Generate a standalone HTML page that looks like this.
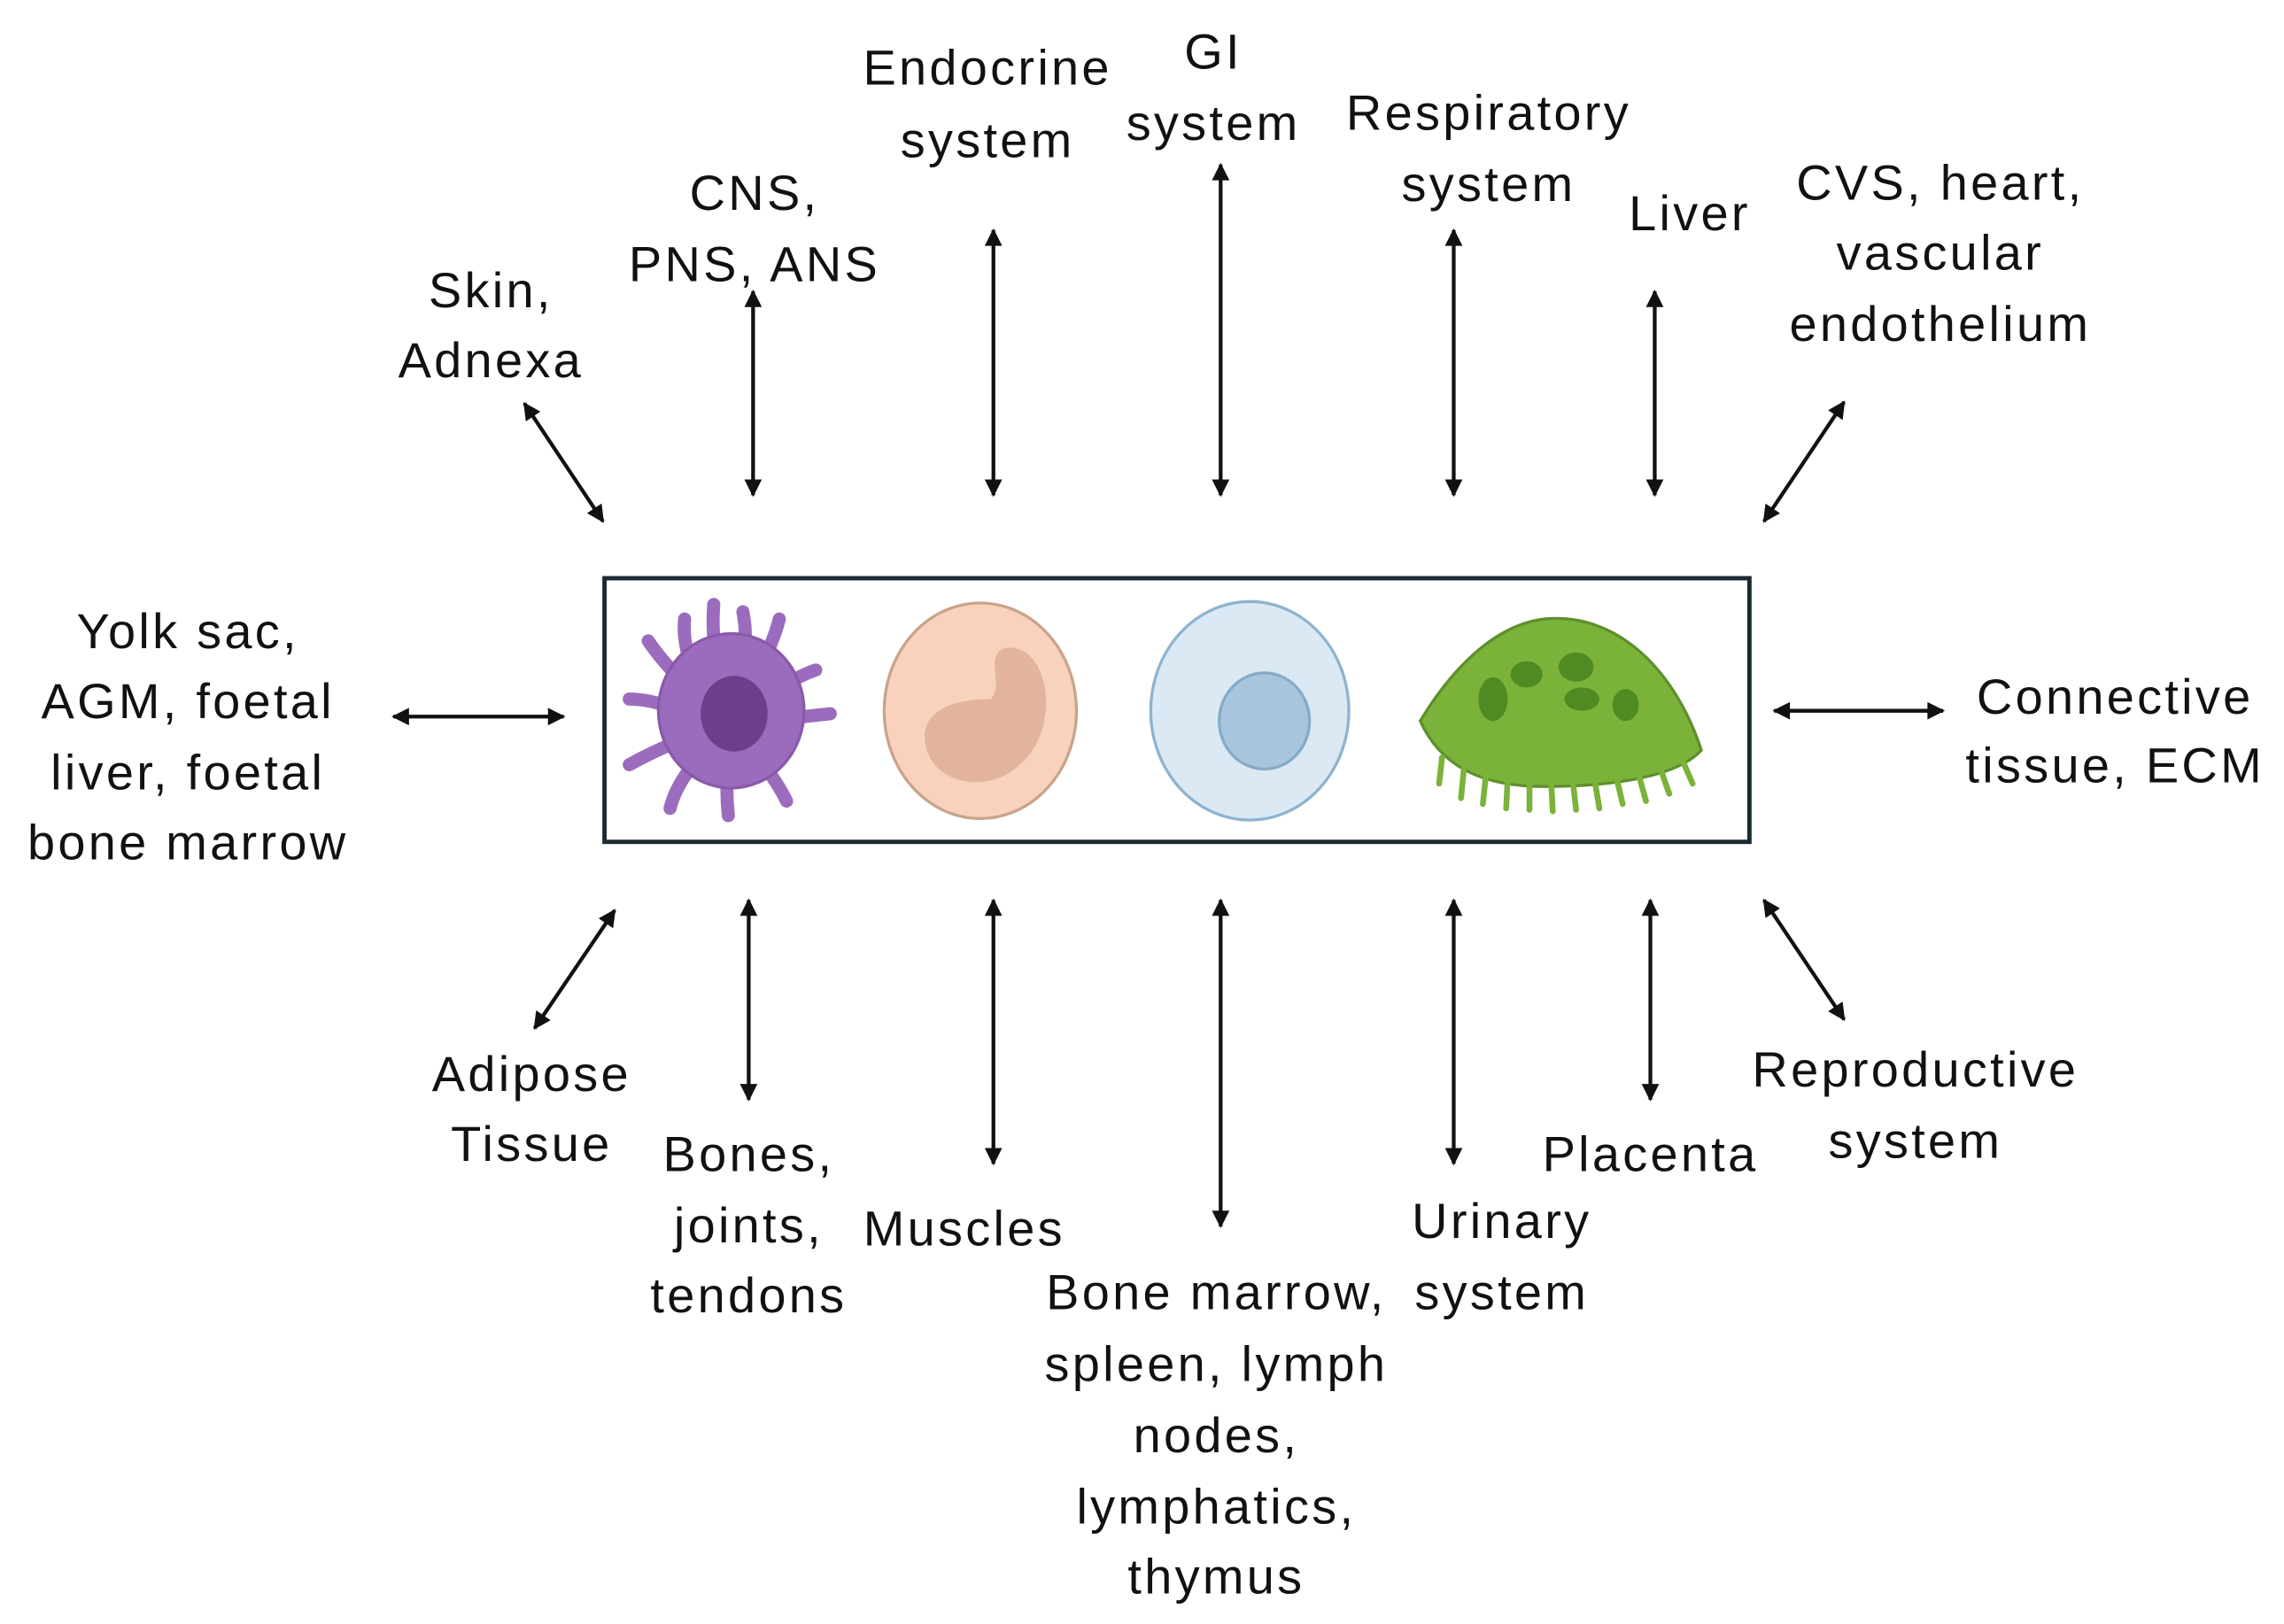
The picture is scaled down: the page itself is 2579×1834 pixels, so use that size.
<!DOCTYPE html>
<html><head><meta charset="utf-8"><style>
html,body{margin:0;padding:0;background:#fff;}
svg{display:block;}
text{font-family:"Liberation Sans","DejaVu Sans",sans-serif;font-size:34px;letter-spacing:2px;fill:#111;text-anchor:middle;}
</style></head><body>
<svg width="2579" height="1834" viewBox="0 0 1568 1115" preserveAspectRatio="none" xmlns="http://www.w3.org/2000/svg">
<defs>
<marker id="a" viewBox="0 0 10 10" refX="9" refY="5" markerWidth="14" markerHeight="12" orient="auto-start-reverse" markerUnits="userSpaceOnUse">
<path d="M0,0 L10,5 L0,10 z" fill="#111"/></marker>
</defs>
<rect width="1568" height="1115" fill="#fff"/>
<g stroke="#111" stroke-width="2.6" marker-start="url(#a)" marker-end="url(#a)" fill="none">
<line x1="360" y1="277" x2="414" y2="358"/>
<line x1="517" y1="200" x2="517" y2="340"/>
<line x1="682" y1="158" x2="682" y2="340"/>
<line x1="838" y1="113" x2="838" y2="340"/>
<line x1="998" y1="158" x2="998" y2="340"/>
<line x1="1136" y1="200" x2="1136" y2="340"/>
<line x1="1266" y1="276" x2="1211" y2="358"/>
<line x1="270" y1="492" x2="387" y2="492"/>
<line x1="1218" y1="488" x2="1334" y2="488"/>
<line x1="422" y1="625" x2="367" y2="706"/>
<line x1="514" y1="618" x2="514" y2="755"/>
<line x1="682" y1="618" x2="682" y2="799"/>
<line x1="838" y1="618" x2="838" y2="842"/>
<line x1="998" y1="618" x2="998" y2="799"/>
<line x1="1133" y1="618" x2="1133" y2="755"/>
<line x1="1211" y1="618" x2="1266" y2="700"/>
</g>
<rect x="415" y="397" width="786" height="181" fill="#fff" stroke="#1c2b33" stroke-width="3"/>
<!-- purple cell -->
<g stroke="#9b6cbd" stroke-width="9" stroke-linecap="round" fill="none">
<path d="M495,470 Q488,440 490,415"/><path d="M480,470 Q468,445 470,425"/><path d="M505,470 Q515,445 510,420"/>
<path d="M515,470 Q530,445 535,425"/><path d="M480,480 Q455,455 445,440"/><path d="M470,490 Q450,480 432,480"/>
<path d="M525,480 Q545,465 560,460"/><path d="M530,495 Q550,492 570,490"/><path d="M475,505 Q450,515 432,525"/>
<path d="M485,515 Q465,535 460,555"/><path d="M500,520 Q498,540 500,560"/><path d="M515,515 Q530,530 540,550"/>
</g>
<ellipse cx="502" cy="488" rx="50" ry="53" fill="#9b6cbd" stroke="#8a5aa8" stroke-width="2"/>
<ellipse cx="504" cy="490" rx="23" ry="26" fill="#6c3f8a"/>
<!-- peach -->
<ellipse cx="673" cy="488" rx="66" ry="74" fill="#f8d2bd" stroke="#c9a38c" stroke-width="2"/>
<path d="M690,445 C720,440 730,500 700,525 C680,545 640,540 635,510 C632,485 660,480 680,480 C690,470 675,450 690,445Z" fill="#e2b49d"/>
<!-- blue -->
<ellipse cx="858" cy="488" rx="68" ry="75" fill="#dbe9f4" stroke="#8eb3cf" stroke-width="2"/>
<ellipse cx="868" cy="495" rx="31" ry="33" fill="#a7c6de" stroke="#86aac6" stroke-width="2"/>
<!-- green -->
<path d="M975,495 C990,470 1020,430 1060,425 C1110,420 1150,460 1168,515 C1150,535 1100,540 1060,540 C1020,540 990,528 975,495Z" fill="#7bb23a" stroke="#5f8f2a" stroke-width="2"/>
<g stroke="#7bb23a" stroke-width="4" stroke-linecap="round">
<path d="M990,520 L988,538"/><path d="M1005,528 L1003,548"/><path d="M1020,533 L1018,552"/><path d="M1035,535 L1034,555"/><path d="M1050,537 L1050,556"/><path d="M1065,538 L1066,557"/><path d="M1080,538 L1082,556"/><path d="M1095,537 L1098,555"/><path d="M1110,535 L1114,552"/><path d="M1125,532 L1130,550"/><path d="M1140,528 L1146,545"/><path d="M1155,522 L1162,538"/></g>
<g fill="#4f8a22"><ellipse cx="1025" cy="480" rx="10" ry="15"/><ellipse cx="1048" cy="463" rx="11" ry="9"/><ellipse cx="1082" cy="458" rx="12" ry="10"/><ellipse cx="1086" cy="480" rx="12" ry="8"/><ellipse cx="1116" cy="484" rx="9" ry="11"/></g>
<!-- labels -->
<text x="678" y="58">Endocrine</text><text x="678" y="108">system</text>
<text x="833" y="47">GI</text><text x="833" y="96">system</text>
<text x="1022" y="89">Respiratory</text><text x="1022" y="138">system</text>
<text x="1160" y="158">Liver</text>
<text x="1332" y="137">CVS, heart,</text><text x="1332" y="185">vascular</text><text x="1332" y="234">endothelium</text>
<text x="518" y="144">CNS,</text><text x="518" y="193">PNS, ANS</text>
<text x="337" y="211">Skin,</text><text x="337" y="259">Adnexa</text>
<text x="129" y="445">Yolk sac,</text><text x="129" y="493">AGM, foetal</text><text x="129" y="542">liver, foetal</text><text x="129" y="590">bone marrow</text>
<text x="1452" y="490">Connective</text><text x="1452" y="537">tissue, ECM</text>
<text x="365" y="749">Adipose</text><text x="365" y="797">Tissue</text>
<text x="514" y="804">Bones,</text><text x="514" y="853">joints,</text><text x="514" y="901">tendons</text>
<text x="662" y="855">Muscles</text>
<text x="835" y="899">Bone marrow,</text><text x="835" y="948">spleen, lymph</text><text x="835" y="997">nodes,</text><text x="835" y="1046">lymphatics,</text><text x="835" y="1094">thymus</text>
<text x="1031" y="850">Urinary</text><text x="1031" y="899">system</text>
<text x="1133" y="804">Placenta</text>
<text x="1315" y="746">Reproductive</text><text x="1315" y="795">system</text>
</svg>
</body></html>
